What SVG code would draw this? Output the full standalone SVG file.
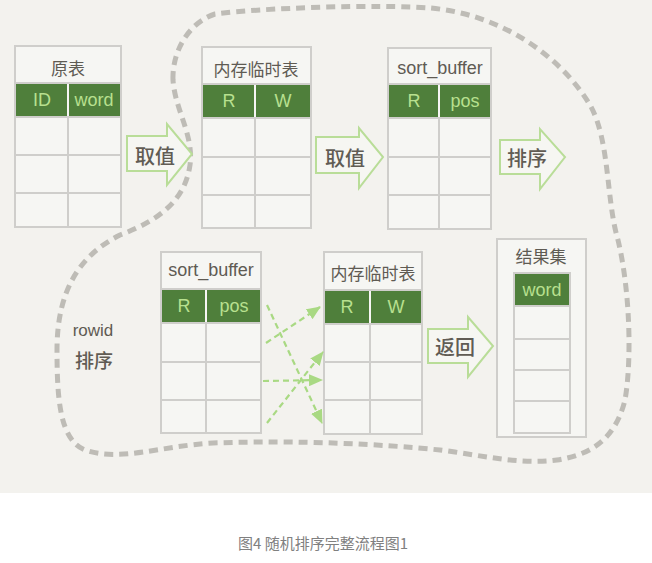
<svg xmlns="http://www.w3.org/2000/svg" width="652" height="563" viewBox="0 0 652 563">
<defs>
<style>
.tb{fill:#f6f6f3;stroke:#cfcecb;stroke-width:2}
.ln{stroke:#cfcecb;stroke-width:2;fill:none}
.gr{fill:#4f7f3b}
.tt{font-family:"Noto Sans CJK SC","Liberation Sans",sans-serif;font-size:17px;fill:#5f5b53;text-anchor:middle;dominant-baseline:central}
.gt{font-family:"Liberation Sans","Noto Sans",sans-serif;font-size:18px;fill:#b8e08f;text-anchor:middle;dominant-baseline:central}
.st{font-family:"Liberation Sans","Noto Sans",sans-serif;font-size:18px;fill:#5f5b53;text-anchor:middle;dominant-baseline:central}
.ar{fill:#f6f6f2;stroke:#b9dd98;stroke-width:2;stroke-linejoin:miter}
.at{font-family:"Noto Sans CJK SC",sans-serif;font-size:20px;fill:#615c54;text-anchor:middle;dominant-baseline:central;font-weight:500}
.dg{stroke:#a9d983;stroke-width:2.2;stroke-dasharray:6 4;fill:none}
</style>
<marker id="ah" markerWidth="14" markerHeight="12" refX="13" refY="6" orient="auto" markerUnits="userSpaceOnUse">
<path d="M0,0 L14,6 L0,12 Z" fill="#a9d983"/>
</marker>
</defs>
<rect x="0" y="0" width="652" height="563" fill="#ffffff"/>
<rect x="0" y="0" width="652" height="493" fill="#f3f2ee"/>

<g id="outline">
<path d="M173,80 C172,50 190,22 215,14 C260,8 380,4 430,8 C500,14 560,55 590,105 C610,140 606,200 618,240 C630,290 632,360 625,400 C615,440 590,455 557,460 C520,465 480,455 440,450 C380,444 300,440 213,443 C160,446 120,462 85,450 C60,440 57,400 57,350 C57,290 80,255 120,235 C160,220 185,200 190,165 C194,135 175,110 173,80 Z" fill="none" stroke="#bebcb6" stroke-width="5" stroke-dasharray="9 6"/>
</g>

<g id="t1">
<rect class="tb" x="15" y="46" width="106" height="181"/>
<rect class="gr" x="16" y="83" width="51" height="34"/>
<rect class="gr" x="69" y="83" width="51" height="34"/>
<path class="ln" d="M15,83H121M15,117H121M15,155H121M15,193H121M68,117V227"/>
<text class="tt" x="68" y="67">原表</text>
<text class="gt" x="42" y="100">ID</text>
<text class="gt" x="94" y="100">word</text>
</g>

<g id="t2">
<rect class="tb" x="202" y="47" width="109" height="181"/>
<rect class="gr" x="203" y="84" width="51" height="34"/>
<rect class="gr" x="256" y="84" width="54" height="34"/>
<path class="ln" d="M202,84H311M202,118H311M202,157H311M202,195H311M255,118V228"/>
<text class="tt" x="256" y="68">内存临时表</text>
<text class="gt" x="229" y="101">R</text>
<text class="gt" x="283" y="101">W</text>
</g>

<g id="t3">
<rect class="tb" x="388" y="48" width="103" height="181"/>
<rect class="gr" x="389" y="84" width="49" height="34"/>
<rect class="gr" x="440" y="84" width="50" height="34"/>
<path class="ln" d="M388,84H491M388,118H491M388,157H491M388,195H491M439,118V229"/>
<text class="st" x="440" y="68">sort_buffer</text>
<text class="gt" x="414" y="101">R</text>
<text class="gt" x="465" y="101">pos</text>
</g>

<g id="t4">
<rect class="tb" x="161" y="252" width="100" height="181"/>
<rect class="gr" x="162" y="289" width="43" height="34"/>
<rect class="gr" x="207" y="289" width="53" height="34"/>
<path class="ln" d="M161,289H261M161,323H261M161,362H261M161,400H261M206,323V433"/>
<text class="st" x="211" y="270">sort_buffer</text>
<text class="gt" x="184" y="306">R</text>
<text class="gt" x="234" y="306">pos</text>
</g>

<g id="t5">
<rect class="tb" x="324" y="252" width="98" height="182"/>
<rect class="gr" x="325" y="290" width="44" height="34"/>
<rect class="gr" x="371" y="290" width="50" height="34"/>
<path class="ln" d="M324,290H422M324,324H422M324,362H422M324,400H422M370,324V434"/>
<text class="tt" x="373" y="272">内存临时表</text>
<text class="gt" x="347" y="307">R</text>
<text class="gt" x="396" y="307">W</text>
</g>

<g id="t6">
<rect class="tb" x="497" y="239" width="89" height="198"/>
<rect class="tb" x="514" y="273" width="56" height="160"/>
<rect class="gr" x="515" y="274" width="54" height="32"/>
<path class="ln" d="M514,306H570M514,339H570M514,370H570M514,401H570"/>
<text class="tt" x="541" y="255">结果集</text>
<text class="gt" x="542" y="290">word</text>
</g>

<g id="a1">
<path class="ar" d="M127,136H167V124L192,154L167,185V171H127Z"/>
<text class="at" x="155" y="155">取值</text>
</g>
<g id="a2">
<path class="ar" d="M316,137H359V128L383,157L359,188V173H316Z"/>
<text class="at" x="345" y="157">取值</text>
</g>
<g id="a3">
<path class="ar" d="M500,140H540V129L565,157L540,189V174H500Z"/>
<text class="at" x="527" y="157">排序</text>
</g>
<g id="a4">
<path class="ar" d="M428,329H468V317L493,346L468,377V363H428Z"/>
<text class="at" x="455" y="346">返回</text>
</g>

<g id="rowid">
<text class="st" x="93" y="330" style="font-size:17px">rowid</text>
<text class="at" x="94" y="359" style="font-size:19px">排序</text>
</g>

<g id="connectors">
<path class="dg" d="M266,343L320,307" marker-end="url(#ah)"/>
<path class="dg" d="M267,305L322,423" marker-end="url(#ah)"/>
<path class="dg" d="M263,381L322,380" marker-end="url(#ah)"/>
<path class="dg" d="M267,423L323,352" marker-end="url(#ah)"/>
</g>

<text x="323" y="542" style="font-family:'Noto Sans CJK SC','Liberation Sans',sans-serif;font-size:15px;fill:#808080;text-anchor:middle;dominant-baseline:central">图4 随机排序完整流程图1</text>
</svg>
